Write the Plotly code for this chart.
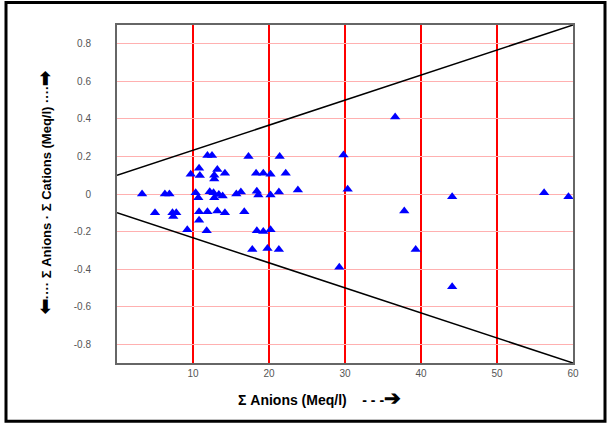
import plotly.graph_objects as go

anions = [3.3, 5.0, 6.3, 6.9, 7.3, 7.8, 7.4, 9.25, 9.7, 10.8, 10.9, 10.35, 10.7, 10.8, 11.9,
          10.8, 11.8, 11.9, 12.5, 17.3, 21.4, 13.2, 12.8, 12.8, 14.2, 18.3, 19.25, 20.2, 22.2,
          12.2, 12.7, 12.8, 13.4, 13.9, 15.7, 16.3, 18.4, 18.6, 20.2, 21.3, 23.8, 13.2, 14.2,
          16.75, 18.4, 19.25, 20.2, 17.8, 19.8, 21.3, 36.6, 29.8, 30.35, 44.1, 56.2, 59.4,
          37.8, 39.3, 29.25, 44.1]
balance = [0.0, -0.1, 0.0, 0.0, -0.1, -0.1, -0.12, -0.19, 0.105, 0.137, 0.098, 0.007, -0.02,
           -0.094, -0.094, -0.14, -0.196, 0.205, 0.205, 0.2, 0.2, 0.13, 0.1, 0.08, 0.11, 0.11,
           0.11, 0.105, 0.11, 0.012, 0.007, -0.02, -0.003, -0.01, 0.0, 0.01, 0.015, -0.005,
           -0.005, 0.01, 0.021, -0.09, -0.1, -0.094, -0.196, -0.2, -0.19, -0.295, -0.29,
           -0.295, 0.41, 0.208, 0.025, -0.014, 0.007, -0.014, -0.09, -0.295, -0.39, -0.494]

limit_x = [0, 60]
upper_limit = [0.1, 0.9]
lower_limit = [-0.1, -0.9]

x_ticks = [10, 20, 30, 40, 50, 60]
y_ticks = [-0.8, -0.6, -0.4, -0.2, 0, 0.2, 0.4, 0.6, 0.8]

fig = go.Figure()
fig.add_trace(go.Scatter(x=limit_x, y=upper_limit, mode="lines",
                         line=dict(color="black", width=1.5), showlegend=False))
fig.add_trace(go.Scatter(x=limit_x, y=lower_limit, mode="lines",
                         line=dict(color="black", width=1.5), showlegend=False))
fig.add_trace(go.Scatter(x=anions, y=balance, mode="markers",
                         marker=dict(symbol="triangle-up", size=9, color="#0000ff"),
                         showlegend=False))

fig.update_layout(
    width=608, height=423,
    margin=dict(l=117, r=35, t=25, b=60),
    paper_bgcolor="white", plot_bgcolor="white",
    font=dict(family="Liberation Sans, Arial", size=10, color="#555"),
    xaxis=dict(range=[0, 60], tickvals=x_ticks, showgrid=True, gridcolor="#ff0000",
               gridwidth=1.5, zeroline=False, showline=True, linecolor="#666",
               linewidth=2, mirror=True, ticks="", tickfont=dict(size=10, color="#555")),
    yaxis=dict(range=[-0.9, 0.9], tickvals=y_ticks, ticktext=[str(v) for v in y_ticks],
               showgrid=True, gridcolor="#ffb0b0", gridwidth=1, zeroline=False,
               showline=True, linecolor="#666", linewidth=2, mirror=True, ticks="",
               ticklabelstandoff=22, tickfont=dict(size=10, color="#555")),
    shapes=[dict(type="rect", xref="paper", yref="paper",
                 x0=(6 - 117) / 456, x1=(605 - 117) / 456,
                 y0=(362.7 - 421) / 337.7, y1=(362.7 - 2.5) / 337.7,
                 line=dict(color="black", width=3), layer="below")],
    annotations=[
        dict(text="<b>Σ Anions (Meq/l)    - - -<span style='font-size:20px'>➔</span></b>",
             xref="paper", yref="paper",
             x=(319 - 117) / 456, y=(362.7 - 398) / 337.7, showarrow=False,
             font=dict(size=14, color="black"), xanchor="center", yanchor="middle"),
        dict(text="<b><span style='font-size:18px'>⬅</span>···· Σ Anions · Σ Cations (Meq/l) ····<span style='font-size:18px'>➡</span></b>",
             xref="paper", yref="paper",
             x=(45 - 117) / 456, y=(362.7 - 193) / 337.7, showarrow=False, textangle=-90,
             font=dict(family="Liberation Sans Narrow, Liberation Sans", size=13, color="black"),
             xanchor="center", yanchor="middle"),
    ],
)

fig.write_html("out.html", config={"displayModeBar": False},
               post_script="document.body.style.margin='0px';")
